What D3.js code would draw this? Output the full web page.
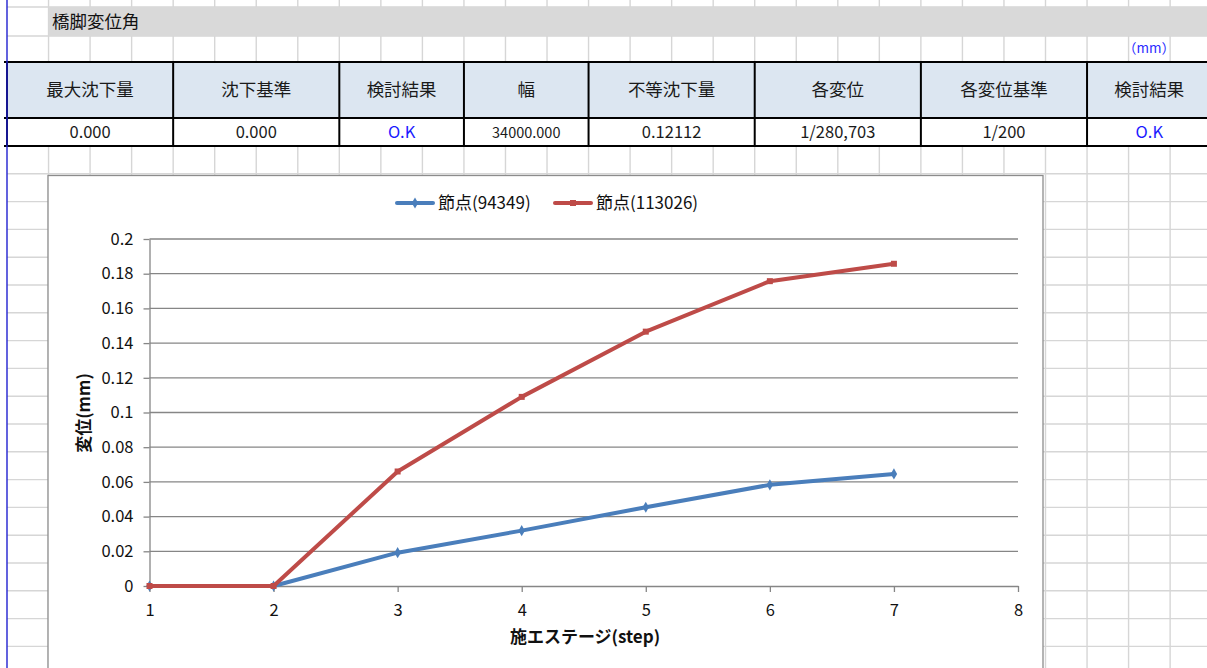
<!DOCTYPE html>
<html>
<head>
<meta charset="utf-8">
<script src="https://cdn.jsdelivr.net/npm/d3@7"></script>
<style>
  html, body { margin: 0; padding: 0; background: #fff; }
  svg { display: block; }
  text { font-family: "Noto Sans CJK JP", "Noto Sans", sans-serif; }
</style>
</head>
<body>
<svg id="sheet" width="1207" height="668"></svg>
<script>
// ---- sheet content ----
const sheetTitle = "橋脚変位角";
const unitNote = "（mm）";
const tableHeaders = ["最大沈下量", "沈下基準", "検討結果", "幅", "不等沈下量", "各変位", "各変位基準", "検討結果"];
const tableValues = ["0.000", "0.000", "O.K", "34000.000", "0.12112", "1/280,703", "1/200", "O.K"];
const tableSpans = [4, 4, 3, 3, 4, 4, 4, 3];   // merged sheet columns per table cell

// ---- chart data ----
const steps = [1, 2, 3, 4, 5, 6, 7];
const node94349 = [0, 0, 0.0192, 0.0319, 0.0454, 0.0583, 0.0646];
const node113026 = [0, 0, 0.0660, 0.1090, 0.1466, 0.1757, 0.18572];
const seriesNames = ["節点(94349)", "節点(113026)"];
const yTicks = [0, 0.02, 0.04, 0.06, 0.08, 0.1, 0.12, 0.14, 0.16, 0.18, 0.2];
const yTickLabels = ["0", "0.02", "0.04", "0.06", "0.08", "0.1", "0.12", "0.14", "0.16", "0.18", "0.2"];
const xTicks = [1, 2, 3, 4, 5, 6, 7, 8];
const xTitle = "施エステージ(step)";
const yTitle = "変位(mm)";

const W = 1207, H = 668;
const svg = d3.select("#sheet");

// ---- spreadsheet grid ----
const colW = 41.54, rowH = 27.8, originX = 7;
const colLines = d3.range(1, 30).map(k => originX + k * colW);
const rowLines = [7, 36, 62, 118].concat(d3.range(0, 20).map(k => 146 + k * rowH)).filter(y => y <= H);

const grid = svg.append("g").attr("stroke", "#d6d6d6").attr("stroke-width", 1.4);
grid.selectAll("line.v").data(colLines).join("line")
  .attr("x1", d => d).attr("x2", d => d).attr("y1", 0).attr("y2", H);
grid.selectAll("line.h").data(rowLines).join("line")
  .attr("x1", originX).attr("x2", W).attr("y1", d => d).attr("y2", d => d);

// title band
svg.append("rect").attr("x", originX + colW).attr("y", 7).attr("width", W).attr("height", 29).attr("fill", "#d9d9d9");
svg.append("text").attr("x", 52).attr("y", 28).attr("font-size", 17.5).attr("fill", "#111").text(sheetTitle);

// unit note
svg.append("text").attr("x", 1149).attr("y", 53).attr("text-anchor", "middle")
  .attr("font-size", 13.5).attr("fill", "#2a2aff").text(unitNote);

// ---- result table ----
const edges = [originX];
tableSpans.forEach(s => edges.push(edges[edges.length - 1] + s * colW));
const cells = tableHeaders.map((h, i) => ({ h, v: tableValues[i], x0: edges[i], x1: edges[i + 1] }));

const tbl = svg.append("g");
tbl.selectAll("rect.hd").data(cells).join("rect")
  .attr("x", d => d.x0).attr("y", 62).attr("width", d => d.x1 - d.x0).attr("height", 56).attr("fill", "#dce6f1");
tbl.selectAll("rect.vl").data(cells).join("rect")
  .attr("x", d => d.x0).attr("y", 118).attr("width", d => d.x1 - d.x0).attr("height", 28).attr("fill", "#fff");
tbl.selectAll("text.hd").data(cells).join("text")
  .attr("x", d => (d.x0 + d.x1) / 2).attr("y", 96).attr("text-anchor", "middle")
  .attr("font-size", 17.5).attr("fill", "#1a1a1a").text(d => d.h);
tbl.selectAll("text.vl").data(cells).join("text")
  .attr("x", d => (d.x0 + d.x1) / 2).attr("y", 138).attr("text-anchor", "middle")
  .attr("font-size", d => d.v.length > 8 && d.v.indexOf("/") < 0 ? 14.5 : 16.5)
  .attr("fill", d => d.v === "O.K" ? "#1a1aff" : "#1a1a1a").text(d => d.v);
tbl.selectAll("line.hb").data([62, 118, 146]).join("line")
  .attr("x1", 4).attr("x2", W).attr("y1", d => d).attr("y2", d => d)
  .attr("stroke", "#000").attr("stroke-width", 2);
tbl.selectAll("line.vb").data(edges).join("line")
  .attr("x1", d => d).attr("x2", d => d).attr("y1", 62).attr("y2", 146)
  .attr("stroke", "#000").attr("stroke-width", 2);

// left frozen-pane edge
svg.append("line").attr("x1", originX).attr("x2", originX).attr("y1", 0).attr("y2", H)
  .attr("stroke", "#2020d0").attr("stroke-width", 1.4);

// ---- chart ----
const chart = svg.append("g");
chart.append("rect").attr("x", 48).attr("y", 175.5).attr("width", 995).attr("height", 520)
  .attr("fill", "#fff").attr("stroke", "#8c8c8c").attr("stroke-width", 1.3);

const x = d3.scaleLinear().domain([1, 8]).range([149.5, 1018]);
const y = d3.scaleLinear().domain([0, 0.2]).range([586, 239]);
const axisColor = "#868686";

// horizontal gridlines
chart.append("g").selectAll("line").data(yTicks.slice(1)).join("line")
  .attr("x1", x(1)).attr("x2", x(8)).attr("y1", d => y(d)).attr("y2", d => y(d))
  .attr("stroke", axisColor).attr("stroke-width", 1.3);

// y axis
const yAxis = chart.append("g").attr("transform", `translate(${x(1)},0)`)
  .call(d3.axisLeft(y).tickValues(yTicks).tickFormat((d, i) => yTickLabels[i]).tickSize(6).tickSizeOuter(0).tickPadding(10));
// x axis
const xAxis = chart.append("g").attr("transform", `translate(0,${y(0)})`)
  .call(d3.axisBottom(x).tickValues(xTicks).tickFormat(d3.format("d")).tickSize(6).tickSizeOuter(0).tickPadding(12));
[yAxis, xAxis].forEach(a => {
  a.select(".domain").attr("stroke", axisColor).attr("stroke-width", 1.3);
  a.selectAll(".tick line").attr("stroke", axisColor).attr("stroke-width", 1.3);
  a.selectAll(".tick text").attr("font-family", "'Noto Sans CJK JP', sans-serif")
    .attr("font-size", 16.5).attr("fill", "#111");
});

// axis titles
chart.append("text").attr("x", 585).attr("y", 643).attr("text-anchor", "middle")
  .attr("font-size", 17).attr("font-weight", "bold").attr("fill", "#111").text(xTitle);
chart.append("text").attr("transform", `translate(90,413) rotate(-90)`).attr("text-anchor", "middle")
  .attr("font-size", 17).attr("font-weight", "bold").attr("fill", "#111").text(yTitle);

// series
const series = [
  { name: seriesNames[0], values: node94349, color: "#4a7ebb", symbol: d3.symbolDiamond },
  { name: seriesNames[1], values: node113026, color: "#be4b48", symbol: d3.symbolSquare }
];
const line = d3.line().x((d, i) => x(steps[i])).y(d => y(d));
series.forEach(s => {
  chart.append("path").datum(s.values).attr("d", line)
    .attr("fill", "none").attr("stroke", s.color).attr("stroke-width", 4)
    .attr("stroke-linejoin", "round").attr("stroke-linecap", "round");
  chart.append("g").selectAll("path").data(s.values).join("path")
    .attr("transform", (d, i) => `translate(${x(steps[i])},${y(d)})`)
    .attr("d", d3.symbol().type(s.symbol).size(36)).attr("fill", s.color);
});

// legend
const legendItems = [{ x: 397, s: series[0] }, { x: 555, s: series[1] }];
legendItems.forEach(li => {
  const g = chart.append("g").attr("transform", `translate(${li.x},203)`);
  g.append("line").attr("x1", 0).attr("x2", 36).attr("stroke", li.s.color).attr("stroke-width", 4).attr("stroke-linecap", "round");
  g.append("path").attr("transform", "translate(18,0)").attr("d", d3.symbol().type(li.s.symbol).size(36)).attr("fill", li.s.color);
  g.append("text").attr("x", 41).attr("y", 6).attr("font-size", 17).attr("fill", "#111").text(li.s.name);
});
</script>
</body>
</html>
